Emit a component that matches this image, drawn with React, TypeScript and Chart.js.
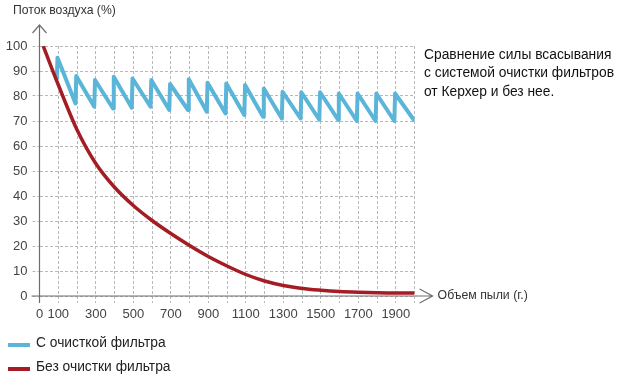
import React, { useEffect, useRef } from 'react';
import { Chart, registerables } from 'chart.js';

Chart.register(...registerables);

const FONT = "'Liberation Sans', Arial, sans-serif";

const yAxisTitle = 'Поток воздуха (%)';
const xAxisTitle = 'Объем пыли (г.)';
const noteLines = ['Сравнение силы всасывания', 'с системой очистки фильтров', 'от Керхер и без нее.'];
const seriesNames = ['С очисткой фильтра', 'Без очистки фильтра'];
const seriesColors = ['#5bb5d8', '#a51d24'];

const xLabeled = [0, 100, 300, 500, 700, 900, 1100, 1300, 1500, 1700, 1900];

// With filter cleaning (sawtooth)
const cleanX = [
  92, 96, 192, 196, 292, 296, 392, 396, 492, 496, 592, 596, 692, 696, 792, 796, 892, 896,
  992, 996, 1092, 1096, 1192, 1196, 1292, 1296, 1392, 1396, 1492, 1496, 1592, 1596,
  1692, 1696, 1792, 1796, 1892, 1896, 2000,
];
const cleanY = [
  86.5, 95.3, 77, 88, 75.7, 86.4, 75, 87.7, 75.3, 87, 75.7, 86.4, 74.4, 84.8, 74.4, 86.7, 73.7, 85.3,
  73, 85, 72.4, 84.4, 71.7, 83, 71, 81.7, 71, 81.5, 70.5, 81.5, 70.5, 81,
  70, 81, 70, 81, 70, 81, 70,
];

// Without filter cleaning
const dirtyX = [20, 100, 200, 300, 400, 500, 600, 700, 800, 900, 1000, 1100, 1200, 1300, 1400, 1500, 1600, 1700, 1800, 1900, 2000];
const dirtyY = [100, 84.5, 66.5, 53, 43.5, 36.2, 30.2, 25, 20.2, 15.8, 12, 8.6, 6, 4.2, 3, 2.3, 1.8, 1.5, 1.3, 1.2, 1.2];

const decor = {
  id: 'decor',
  beforeDatasetsDraw(chart: any) {
    const { ctx, scales } = chart;
    const x = scales.x, y = scales.y;
    const x0 = x.getPixelForValue(0);
    const y0 = y.getPixelForValue(0);
    const xEnd = x.getPixelForValue(2000);
    const yTop = y.getPixelForValue(100);
    ctx.save();
    ctx.strokeStyle = '#6e6e6e';
    ctx.lineWidth = 1.2;
    ctx.beginPath();
    ctx.moveTo(x0 - 8, y0);
    ctx.lineTo(xEnd + 18, y0);
    ctx.moveTo(xEnd + 5, y0 - 7);
    ctx.lineTo(xEnd + 18, y0);
    ctx.lineTo(xEnd + 5, y0 + 7);
    ctx.moveTo(x0, y0 + 7);
    ctx.lineTo(x0, yTop - 21);
    ctx.moveTo(x0 - 7, yTop - 13);
    ctx.lineTo(x0, yTop - 21);
    ctx.lineTo(x0 + 7, yTop - 13);
    ctx.stroke();
    ctx.restore();
  },
  afterDraw(chart: any) {
    const { ctx, scales } = chart;
    const x = scales.x, y = scales.y;
    const xEnd = x.getPixelForValue(2000);
    const y0 = y.getPixelForValue(0);
    ctx.save();
    ctx.textBaseline = 'middle';
    ctx.textAlign = 'left';
    ctx.fillStyle = '#333';
    ctx.font = `12.2px ${FONT}`;
    ctx.fillText(yAxisTitle, 13, 11);
    ctx.font = `12.3px ${FONT}`;
    ctx.fillText(xAxisTitle, xEnd + 23, y0);
    ctx.fillStyle = '#111';
    ctx.font = `13.8px ${FONT}`;
    noteLines.forEach((t, i) => ctx.fillText(t, 424, 55 + i * 18.5));
    // legend
    ctx.font = `13.8px ${FONT}`;
    ctx.fillStyle = '#222';
    const ly = [343, 367];
    seriesNames.forEach((n, i) => {
      ctx.strokeStyle = seriesColors[i];
      ctx.lineWidth = 4;
      ctx.beginPath();
      ctx.moveTo(8, ly[i] + 2);
      ctx.lineTo(30, ly[i] + 2);
      ctx.stroke();
      ctx.fillText(n, 36, ly[i]);
    });
    ctx.restore();
  },
};

export default function App() {
  const ref = useRef<HTMLCanvasElement | null>(null);
  useEffect(() => {
    if (!ref.current) return;
    const chart = new Chart(ref.current, {
      type: 'line',
      data: {
        datasets: [
          {
            label: seriesNames[0],
            data: cleanX.map((v, i) => ({ x: v, y: cleanY[i] })),
            borderColor: seriesColors[0],
            borderWidth: 4,
            borderJoinStyle: 'round',
            pointRadius: 0,
            tension: 0,
            order: 1,
          },
          {
            label: seriesNames[1],
            data: dirtyX.map((v, i) => ({ x: v, y: dirtyY[i] })),
            borderColor: seriesColors[1],
            borderWidth: 3.5,
            pointRadius: 0,
            cubicInterpolationMode: 'monotone',
            order: 0,
          },
        ],
      },
      options: {
        animation: false,
        responsive: true,
        maintainAspectRatio: false,
        layout: { padding: { top: 46, right: 205.4, bottom: 53, left: 0 } },
        plugins: { legend: { display: false }, tooltip: { enabled: false } },
        scales: {
          x: {
            type: 'linear',
            min: 0,
            max: 2000,
            afterFit: (s: any) => { s.height = 30; },
            border: { display: false, dash: [3, 2] },
            grid: { color: '#b8b8b8', lineWidth: 1, tickLength: 7, tickBorderDash: [3, 2], tickColor: '#b8b8b8' },
            ticks: {
              stepSize: 100,
              autoSkip: false,
              maxRotation: 0,
              padding: 4,
              color: '#444',
              font: { size: 13, family: FONT },
              callback: (v: any) => (xLabeled.includes(Number(v)) ? String(v) : ''),
            },
          },
          y: {
            min: 0,
            max: 100,
            afterFit: (s: any) => { s.width = 39.5; },
            border: { display: false, dash: [3, 2] },
            grid: { color: '#b8b8b8', lineWidth: 1, tickLength: 7, tickBorderDash: [3, 2], tickColor: '#b8b8b8' },
            ticks: { stepSize: 10, padding: 5, color: '#444', font: { size: 13, family: FONT } },
          },
        },
      },
      plugins: [decor],
    } as any);
    return () => chart.destroy();
  }, []);
  return (
    <div style={{ position: 'fixed', left: 0, top: 0, width: 620, height: 379, background: '#fff' }}>
      <canvas ref={ref} style={{ width: '100%', height: '100%' }} />
    </div>
  );
}
